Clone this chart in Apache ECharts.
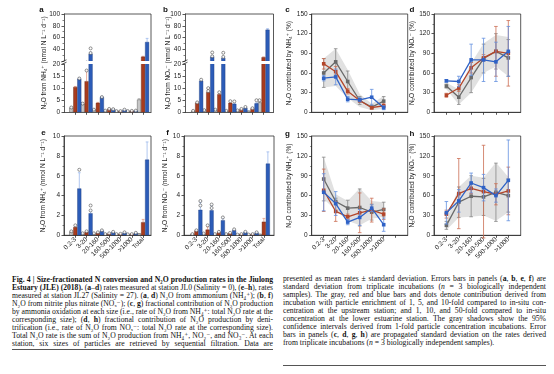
<!DOCTYPE html>
<html>
<head>
<meta charset="utf-8">
<script src="https://cdn.jsdelivr.net/npm/echarts@6.0.0/dist/echarts.min.js"></script>
<style>
html, body { margin:0; padding:0; background:#fff; width:554px; height:374px; overflow:hidden; }
#chart { position:absolute; left:0; top:0; width:554px; height:270px; }
.col { position:absolute; font-family:"Liberation Serif","DejaVu Serif",serif; font-size:7.7px; line-height:8px; color:#111; }
.col div { white-space:nowrap; height:8px; text-align:left; }
.col div span.ln { display:inline-block; transform-origin:0 50%; }
.rule { position:absolute; height:0; border-top:1px solid #555; }
</style>
</head>
<body>
<div id="chart"></div>
<div class="col" id="capL" style="left:12px;top:276px;width:261px;">
<div><span class="ln"><b>Fig. 4 | Size-fractionated N conversion and N₂O production rates in the Jiulong</b></span></div>
<div><span class="ln"><b>Estuary (JLE) (2018).</b> (<b>a</b>–<b>d</b>) rates measured at station JL0 (Salinity = 0), (<b>e</b>–<b>h</b>), rates</span></div>
<div><span class="ln">measured at station JL27 (Salinity = 27). (<b>a</b>, <b>d</b>) N₂O from ammonium (NH₄⁺); (<b>b</b>, <b>f</b>)</span></div>
<div><span class="ln">N₂O from nitrite plus nitrate (NOₓ⁻); (<b>c</b>, <b>g</b>) fractional contribution of N₂O production</span></div>
<div><span class="ln">by ammonia oxidation at each size (i.e., rate of N₂O from NH₄⁺: total N₂O rate at the</span></div>
<div><span class="ln">corresponding size); (<b>d</b>, <b>h</b>) fractional contribution of N₂O production by deni-</span></div>
<div><span class="ln">trification (i.e., rate of N₂O from NOₓ⁻: total N₂O rate at the corresponding size).</span></div>
<div><span class="ln">Total N₂O rate is the sum of N₂O production from NH₄⁺, NO₂⁻, and NO₃⁻. At each</span></div>
<div><span class="ln">station, six sizes of particles are retrieved by sequential filtration. Data are</span></div>
</div>
<div class="col" id="capR" style="left:283px;top:275px;width:263px;">
<div><span class="ln">presented as mean rates ± standard deviation. Errors bars in panels (<b>a</b>, <b>b</b>, <b>e</b>, <b>f</b>) are</span></div>
<div><span class="ln">standard deviation from triplicate incubations (<i>n</i> = 3 biologically independent</span></div>
<div><span class="ln">samples). The gray, red and blue bars and dots denote contribution derived from</span></div>
<div><span class="ln">incubation with particle enrichment of 1, 5, and 10-fold compared to in-situ con-</span></div>
<div><span class="ln">centration at the upstream station; and 1, 10, and 50-fold compared to in-situ</span></div>
<div><span class="ln">concentration at the lower estuarine station. The gray shadows show the 95%</span></div>
<div><span class="ln">confidence intervals derived from 1-fold particle concentration incubations. Error</span></div>
<div><span class="ln">bars in panels (<b>c</b>, <b>d</b>, <b>g</b>, <b>h</b>) are propagated standard deviation on the rates derived</span></div>
<div class="last"><span class="ln">from triplicate incubations (<i>n</i> = 3 biologically independent samples).</span></div>
</div>
<div class="rule" style="left:12px;top:349px;width:261px;"></div>
<div class="rule" style="left:283px;top:365px;width:263px;"></div>
<script>
// ---------------- DATA ----------------
const categories = ['0.2-3', '3-20', '20-160', '160-500', '500-1000', '>1000', 'Total'];
const sizeClasses = ['0.2-3', '3-20', '20-160', '160-500', '500-1000', '>1000'];

// Panel a: N2O from NH4+ (JL0), nmol N L-1 d-1
const aGray = [1.8, 3.4, 1.0, 0.6, 0.5, 0.4, 5.2];
const aGrayErr = [0.3, 0.5, 0.2, 0.1, 0.1, 0.1, 0.4];
const aGrayDots = [[2.0], [3.6], [1.1], [0.7], [0.5], [0.5], []];
const aRed = [10.4, 12.8, 3.8, 1.3, 0.4, 0.5, 27];
const aRedErr = [0.3, 4.5, 0.3, 0.2, 0.1, 0.1, 1.0];
const aRedDots = [[], [17.3], [], [1.4], [0.5], [0.6], []];
const aBlue = [13.8, 32, 6.2, 1.2, 1.0, 0.6, 52];
const aBlueErr = [0.4, 3.0, 0.4, 0.2, 0.1, 0.1, 6.5];
const aBlueDots = [[14.0], [41.5, 33.5], [6.3], [1.3], [1.1], [0.7], []];

// Panel b: N2O from NOx- (JL0)
const bGray = [0.5, 0.8, 1.0, 0.5, 0.7, 0.5, 4.0];
const bGrayErr = [0.1, 0.1, 0.1, 0.1, 0.1, 0.1, 0.3];
const bGrayDots = [[0.6], [0.9], [1.1], [0.6], [0.8], [], [5.0]];
const bRed = [3.9, 8.3, 7.4, 3.8, 1.2, 1.5, 26];
const bRedErr = [0.3, 1.5, 0.5, 0.4, 0.2, 0.2, 1.0];
const bRedDots = [[4.1], [10.0, 8.8], [8.3], [4.6], [1.4], [1.7], []];
const bBlue = [13.0, 27, 25, 3.4, 1.8, 3.6, 73];
const bBlueErr = [0.3, 2.0, 2.0, 0.3, 0.2, 0.3, 2.0];
const bBlueDots = [[13.5], [34.5, 28], [34, 27], [4.5], [2.2], [5.0], []];

// Panel e: N2O from NH4+ (JL27)
const eGray = [0.35, 0.15, 0.15, 0.1, 0.1, 0.08, 0.15];
const eGrayErr = [0.05, 0.03, 0.03, 0.02, 0.02, 0.02, 0.03];
const eGrayDots = [[0.4], [0.2], [0.2], [0.12], [0.12], [0.1], []];
const eRed = [0.8, 0.35, 0.25, 0.15, 0.12, 0.1, 1.3];
const eRedErr = [0.15, 0.05, 0.04, 0.03, 0.02, 0.02, 0.3];
const eRedDots = [[1.0], [0.4], [0.3], [0.2], [0.15], [0.12], []];
const eBlue = [4.7, 2.2, 0.45, 0.3, 0.25, 0.2, 7.6];
const eBlueErr = [1.6, 0.3, 0.05, 0.04, 0.03, 0.03, 1.8];
const eBlueDots = [[6.6], [3.0, 2.5], [0.5], [0.35], [0.3], [0.25], []];

// Panel f: N2O from NOx- (JL27)
const fGray = [0.1, 0.15, 0.1, 0.1, 0.05, 0.05, 0.1];
const fGrayErr = [0.02, 0.02, 0.02, 0.02, 0.01, 0.01, 0.02];
const fGrayDots = [[0.12], [0.18], [0.12], [0.12], [0.07], [0.07], []];
const fRed = [0.45, 0.55, 0.3, 0.2, 0.1, 0.1, 1.35];
const fRedErr = [0.05, 0.3, 0.04, 0.03, 0.02, 0.02, 0.35];
const fRedDots = [[0.5], [1.0], [0.35], [0.25], [0.12], [0.12], []];
const fBlue = [2.55, 2.5, 1.5, 0.5, 0.3, 0.25, 7.2];
const fBlueErr = [0.8, 0.5, 0.25, 0.08, 0.04, 0.04, 1.2];
const fBlueDots = [[3.45, 3.0], [3.1, 2.75], [1.8], [0.6], [0.35], [0.3], []];

// Panel c: % contributed by NH4+ (JL0)
const cGray = [60, 77, 47, 18, 8, 17];
const cGrayErr = [22, 20, 16, 6, 3, 7];
const cRed = [74, 62, 32, 18, 7, 10];
const cRedErr = [8, 8, 4, 3, 2, 3];
const cBlue = [52, 54, 20, 19, 23, 7];
const cBlueErr = [4, 12, 4, 3, 12, 3];
const cBandLow = [38, 40, 22, 8, 3, 5];
const cBandHigh = [82, 97, 65, 28, 13, 25];

// Panel d: % contributed by NOx- (JL0)
const dGray = [40, 23, 53, 82, 93, 83];
const dGrayErr = [3, 11, 23, 22, 27, 28];
const dRed = [26, 37, 68, 83, 93, 90];
const dRedErr = [3, 5, 8, 5, 38, 50];
const dBlue = [48, 47, 80, 80, 77, 93];
const dBlueErr = [2, 8, 24, 33, 30, 38];
const dBandLow = [35, 12, 30, 60, 70, 55];
const dBandHigh = [45, 35, 75, 105, 118, 115];

// Panel g: % contributed by NH4+ (JL27)
const gGray = [85, 51, 41, 42, 35, 39];
const gGrayErr = [33, 5, 12, 28, 12, 11];
const gRed = [68, 36, 28, 34, 38, 32];
const gRedErr = [32, 15, 4, 30, 18, 8];
const gBlue = [65, 48, 20, 27, 41, 16];
const gBlueErr = [28, 18, 4, 12, 5, 10];
const gBandLow = [55, 38, 22, 15, 25, 28];
const gBandHigh = [118, 62, 52, 71, 52, 50];

// Panel h: % contributed by NOx- (JL27)
const hGray = [15, 50, 59, 58, 65, 60];
const hGrayErr = [6, 23, 31, 28, 44, 25];
const hRed = [32, 63, 71, 66, 62, 67];
const hRedErr = [6, 53, 8, 70, 16, 36];
const hBlue = [34, 52, 79, 72, 60, 83];
const hBlueErr = [17, 17, 15, 20, 10, 61];
const hBandLow = [8, 27, 28, 30, 22, 35];
const hBandHigh = [22, 73, 90, 87, 110, 88];

// ---------------- STYLE ----------------
const TXT = '#222';
const AXC = '#2e2e2e';
const FONT = '"Liberation Sans", "DejaVu Sans", Arial, sans-serif';
const BAR_W = 3.6;
const PAL = {
  gray: { fill: '#c6c6c6', stroke: '#3c3c3c', err: '#9c9c9c', line: '#696969', lineErr: '#858585', off: -4 },
  red:  { fill: '#a83b1d', stroke: '#5c1f0e', err: '#e39a83', line: '#b4462a', lineErr: '#cc6e54', off: 0 },
  blue: { fill: '#2c5cb8', stroke: '#1b3b7c', err: '#9cb9ec', line: '#2f62c6', lineErr: '#6390e0', off: 4 }
};

const option = {
  animation: false, backgroundColor: '#fff',
  textStyle: { fontFamily: FONT },
  grid: [], xAxis: [], yAxis: [], series: [], graphic: []
};

function addGrid(g, framed) {
  option.grid.push(Object.assign({ containLabel: false, outerBoundsMode: 'none',
    show: !!framed, borderColor: AXC, borderWidth: 0.8, backgroundColor: 'transparent' }, g));
  return option.grid.length - 1;
}
function addX(gi, min, max, tickVals, labelVals, names, hidden) {
  option.xAxis.push({
    gridIndex: gi, type: 'value', min: min, max: max, show: !hidden,
    axisLine: { show: true, onZero: false, lineStyle: { color: AXC, width: 0.8 } },
    axisTick: { show: true, length: 2.5, customValues: tickVals, lineStyle: { color: AXC, width: 0.8 } },
    minorTick: { show: false },
    axisLabel: labelVals ? { show: true, customValues: labelVals, formatter: v => names[Math.round(v) - 1] || '',
      rotate: 45, fontSize: 6.5, color: TXT, margin: 3, fontFamily: FONT } : { show: false },
    splitLine: { show: false }
  });
}
function addY(gi, min, max, interval, name, nameGap, hideMin) {
  option.yAxis.push({
    gridIndex: gi, type: 'value', min: min, max: max, interval: interval,
    name: name || '', nameLocation: 'middle', nameGap: nameGap || 15,
    nameTextStyle: { fontSize: 6.5, color: TXT, fontFamily: FONT },
    axisLine: { show: true, onZero: false, lineStyle: { color: AXC, width: 0.8 } },
    axisTick: { show: true, inside: false, length: 2.5, lineStyle: { color: AXC, width: 0.8 } },
    minorTick: { show: true, splitNumber: 2, length: 1.5, lineStyle: { color: AXC, width: 0.6 } },
    axisLabel: { fontSize: 6.5, color: TXT, margin: 4, fontFamily: FONT, showMinLabel: !hideMin },
    splitLine: { show: false }, minorSplitLine: { show: false }
  });
}

function barRenderer(pal, dots) {
  return function (params, api) {
    const x = api.value(0), v = api.value(1), e = api.value(2);
    const base = api.coord([x, 0]), top = api.coord([x, v]), et = api.coord([x, v + e]);
    const cx = base[0] + pal.off;
    const ch = [];
    if (e > 0) {
      ch.push({ type: 'line', shape: { x1: cx, y1: top[1], x2: cx, y2: et[1] }, style: { stroke: pal.err, lineWidth: 0.8 } });
      ch.push({ type: 'line', shape: { x1: cx - 1.4, y1: et[1], x2: cx + 1.4, y2: et[1] }, style: { stroke: pal.err, lineWidth: 0.8 } });
    }
    ch.push({ type: 'rect', shape: { x: cx - BAR_W / 2, y: top[1], width: BAR_W, height: base[1] - top[1] },
      style: { fill: pal.fill, stroke: pal.stroke, lineWidth: 0.4 } });
    (dots[params.dataIndex] || []).forEach(d => {
      const p = api.coord([x, d]);
      ch.push({ type: 'circle', shape: { cx: cx, cy: p[1], r: 1.5 }, style: { fill: 'rgba(255,255,255,0.85)', stroke: '#4a4a4a', lineWidth: 0.6 } });
    });
    return { type: 'group', children: ch };
  };
}
function addBars(axisIdx, vals, errs, dots, pal, z) {
  option.series.push({
    type: 'custom', xAxisIndex: axisIdx, yAxisIndex: axisIdx, clip: true, silent: true, z: z,
    renderItem: barRenderer(pal, dots),
    encode: { x: 0, y: 1 },
    data: vals.map((v, i) => [i + 1, v, errs[i]])
  });
}
function addBand(gi, lo, hi) {
  option.series.push({
    type: 'custom', xAxisIndex: gi, yAxisIndex: gi, silent: true, z: 1,
    renderItem: function (params, api) {
      const pts = [];
      hi.forEach((v, i) => pts.push(api.coord([i + 1, v])));
      for (let i = lo.length - 1; i >= 0; i--) pts.push(api.coord([i + 1, lo[i]]));
      return { type: 'polygon', shape: { points: pts }, style: { fill: '#e1e1e1' } };
    },
    data: [[1, lo[0]]]
  });
}
function addLine(gi, vals, errs, pal, z) {
  option.series.push({
    type: 'custom', xAxisIndex: gi, yAxisIndex: gi, silent: true, z: z,
    renderItem: function (params, api) {
      const x = api.value(0), v = api.value(1), e = api.value(2);
      const lo = api.coord([x, v - e]), hi = api.coord([x, v + e]);
      const cx = lo[0];
      return { type: 'group', children: [
        { type: 'line', shape: { x1: cx, y1: lo[1], x2: cx, y2: hi[1] }, style: { stroke: pal.lineErr, lineWidth: 0.8 } },
        { type: 'line', shape: { x1: cx - 1.8, y1: lo[1], x2: cx + 1.8, y2: lo[1] }, style: { stroke: pal.lineErr, lineWidth: 0.8 } },
        { type: 'line', shape: { x1: cx - 1.8, y1: hi[1], x2: cx + 1.8, y2: hi[1] }, style: { stroke: pal.lineErr, lineWidth: 0.8 } }
      ] };
    },
    data: vals.map((v, i) => [i + 1, v, errs[i]])
  });
  option.series.push({
    type: 'line', xAxisIndex: gi, yAxisIndex: gi, silent: true, z: z + 1,
    data: vals.map((v, i) => [i + 1, v]),
    symbol: 'rect', symbolSize: 3.6, showSymbol: true,
    lineStyle: { color: pal.line, width: 1.3 }, itemStyle: { color: pal.line }
  });
}

const nameNH4 = 'N₂O from NH₄⁺ (nmol N L⁻¹ d⁻¹)';
const nameNOx = 'N₂O from NOₓ⁻ (nmol N L⁻¹ d⁻¹)';
const nameCNH4 = 'N₂O contributed by NH₄⁺ (%)';
const nameCNOx = 'N₂O contributed by NOₓ⁻ (%)';
const ticks7 = [1, 2, 3, 4, 5, 6, 7];
const ticks6 = [1, 2, 3, 4, 5, 6];

// ---------- Panel a (broken axis: two grids) ----------
let gi;
gi = addGrid({ left: 64, top: 14, width: 87, height: 47 });           // 0
addX(gi, 0, 7.7, ticks7, null, null, true);
addY(gi, 20, 100, 20, '', 0, true);
gi = addGrid({ left: 64, top: 64, width: 87, height: 48.3 });         // 1
addX(gi, 0, 7.7, ticks7, null, null, false);
addY(gi, 0, 20, 5, '', 0, false);
[0, 1].forEach(ax => {
  addBars(ax, aGray, aGrayErr, aGrayDots, PAL.gray, 3);
  addBars(ax, aRed, aRedErr, aRedDots, PAL.red, 3);
  addBars(ax, aBlue, aBlueErr, aBlueDots, PAL.blue, 3);
});

// ---------- Panel b ----------
gi = addGrid({ left: 185, top: 14, width: 88.5, height: 47 });        // 2
addX(gi, -0.1, 7.9, ticks7, null, null, true);
addY(gi, 20, 100, 20, '', 0, true);
gi = addGrid({ left: 185, top: 64, width: 88.5, height: 48.3 });      // 3
addX(gi, -0.1, 7.9, ticks7, null, null, false);
addY(gi, 0, 20, 5, '', 0, false);
[2, 3].forEach(ax => {
  addBars(ax, bGray, bGrayErr, bGrayDots, PAL.gray, 3);
  addBars(ax, bRed, bRedErr, bRedDots, PAL.red, 3);
  addBars(ax, bBlue, bBlueErr, bBlueDots, PAL.blue, 3);
});

// ---------- Panel c ----------
gi = addGrid({ left: 311.7, top: 14, width: 96, height: 98.3 }, true); // 4
addX(gi, 0, 8, ticks7, null, null, false);
addY(gi, 0, 150, 30, nameCNH4, 18);
addBand(gi, cBandLow, cBandHigh);
addLine(gi, cGray, cGrayErr, PAL.gray, 4);
addLine(gi, cRed, cRedErr, PAL.red, 6);
addLine(gi, cBlue, cBlueErr, PAL.blue, 8);

// ---------- Panel d ----------
gi = addGrid({ left: 434, top: 14, width: 86.7, height: 98.3 }, true); // 5
addX(gi, 0, 7, ticks6, null, null, false);
addY(gi, 0, 150, 30, nameCNOx, 13.5);
addBand(gi, dBandLow, dBandHigh);
addLine(gi, dGray, dGrayErr, PAL.gray, 4);
addLine(gi, dRed, dRedErr, PAL.red, 6);
addLine(gi, dBlue, dBlueErr, PAL.blue, 8);

// ---------- Panel e ----------
gi = addGrid({ left: 64, top: 136, width: 87, height: 99.3 }, true);   // 6
addX(gi, 0, 7.7, ticks7, ticks7, categories, false);
addY(gi, 0, 10, 2, nameNH4, 17);
addBars(gi, eGray, eGrayErr, eGrayDots, PAL.gray, 3);
addBars(gi, eRed, eRedErr, eRedDots, PAL.red, 3);
addBars(gi, eBlue, eBlueErr, eBlueDots, PAL.blue, 3);

// ---------- Panel f ----------
gi = addGrid({ left: 184, top: 136, width: 90, height: 99.3 }, true);  // 7
addX(gi, -0.1, 7.9, ticks7, ticks7, categories, false);
addY(gi, 0, 10, 2, nameNOx, 12);
addBars(gi, fGray, fGrayErr, fGrayDots, PAL.gray, 3);
addBars(gi, fRed, fRedErr, fRedDots, PAL.red, 3);
addBars(gi, fBlue, fBlueErr, fBlueDots, PAL.blue, 3);

// ---------- Panel g ----------
gi = addGrid({ left: 311.7, top: 136, width: 96, height: 99.3 }, true); // 8
addX(gi, 0, 8, ticks7, ticks6, sizeClasses, false);
addY(gi, 0, 150, 30, nameCNH4, 18);
addBand(gi, gBandLow, gBandHigh);
addLine(gi, gGray, gGrayErr, PAL.gray, 4);
addLine(gi, gRed, gRedErr, PAL.red, 6);
addLine(gi, gBlue, gBlueErr, PAL.blue, 8);

// ---------- Panel h ----------
gi = addGrid({ left: 434, top: 136, width: 86.7, height: 99.3 }, true); // 9
addX(gi, 0, 7, ticks6, ticks6, sizeClasses, false);
addY(gi, 0, 150, 30, nameCNOx, 13.5);
addBand(gi, hBandLow, hBandHigh);
addLine(gi, hGray, hGrayErr, PAL.gray, 4);
addLine(gi, hRed, hRedErr, PAL.red, 6);
addLine(gi, hBlue, hBlueErr, PAL.blue, 8);

// ---------- frames, break marks, names, panel letters ----------
function frame(l, r, t, b) {
  return { type: 'polyline', silent: true, z: 50, shape: { points: [[l, t], [r, t], [r, b]] },
    style: { stroke: AXC, lineWidth: 0.8, fill: null } };
}
function breakMark(x, y) {
  return { type: 'group', silent: true, z: 60, children: [
    { type: 'line', shape: { x1: x - 2.5, y1: y, x2: x + 2.5, y2: y - 2.2 }, style: { stroke: AXC, lineWidth: 0.8 } },
    { type: 'line', shape: { x1: x - 2.5, y1: y + 2.4, x2: x + 2.5, y2: y + 0.2 }, style: { stroke: AXC, lineWidth: 0.8 } }
  ] };
}
function vName(text, x, y) {
  return { type: 'text', silent: true, x: x, y: y, rotation: Math.PI / 2,
    style: { text: text, fontSize: 6.5, fill: TXT, fontFamily: FONT, align: 'center', verticalAlign: 'middle' } };
}
function letter(t, x, y) {
  return { type: 'text', silent: true, x: x, y: y,
    style: { text: t, fontSize: 8, fontWeight: 'bold', fill: '#111', fontFamily: FONT, align: 'center', verticalAlign: 'middle' } };
}
option.graphic = [
  frame(64, 151, 14, 112.3), frame(185, 273.5, 14, 112.3),
  breakMark(64, 62), breakMark(185, 62),
  vName(nameNH4, 44, 63), vName(nameNOx, 168, 63),
  letter('a', 41.5, 9.5), letter('b', 165.5, 9.5), letter('c', 287.5, 9.5), letter('d', 412, 9.5),
  letter('e', 43.5, 132.5), letter('f', 167.5, 132.5), letter('g', 287.5, 133.5), letter('h', 412, 133.5)
];

const chart = echarts.init(document.getElementById('chart'), null, { renderer: 'canvas' });
chart.setOption(option);

// ---------- justify caption lines to column width ----------
document.querySelectorAll('.col').forEach(col => {
  const W = col.getBoundingClientRect().width;
  col.querySelectorAll('div').forEach(div => {
    const sp = div.querySelector('span.ln');
    const w = sp.getBoundingClientRect().width;
    if (w > W) {
      sp.style.transform = 'scaleX(' + (W / w).toFixed(4) + ')';
    } else if (!div.classList.contains('last')) {
      const n = (sp.textContent.match(/ /g) || []).length;
      if (n > 0) sp.style.wordSpacing = ((W - w) / n).toFixed(3) + 'px';
    }
  });
});
</script>
</body>
</html>
